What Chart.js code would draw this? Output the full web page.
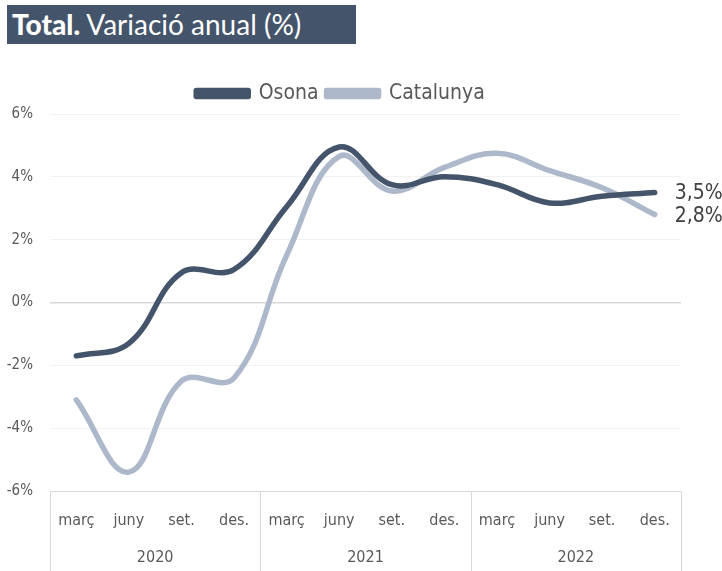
<!DOCTYPE html>
<html>
<head>
<meta charset="utf-8">
<script src="https://cdn.jsdelivr.net/npm/chart.js@4/dist/chart.umd.min.js"></script>
<style>
  html, body { margin: 0; padding: 0; background: #ffffff; }
  body { width: 722px; height: 571px; position: relative; overflow: hidden; }
  #titlebar {
    position: absolute; left: 7px; top: 5px; width: 349px; height: 39px;
    background: #44546a; color: #ffffff;
    font-family: Lato, "Open Sans", sans-serif; font-size: 28px;
    line-height: 39px; padding-left: 5px; box-sizing: border-box; white-space: nowrap;
  }
  #titlebar b { font-weight: 900; }
  #titlebar span { font-weight: 400; }
  #wrap { position: absolute; left: 0; top: 0; width: 722px; height: 571px; }
</style>
</head>
<body>
<div id="wrap"><canvas id="c" width="722" height="571"></canvas></div>
<div id="titlebar"><b>Total.</b><span> Variació anual (%)</span></div>
<script>
const quarters = ['març', 'juny', 'set.', 'des.', 'març', 'juny', 'set.', 'des.', 'març', 'juny', 'set.', 'des.'];
const years = ['2020', '2021', '2022'];
const osona = [-1.7, -1.3, 0.95, 1.05, 3.05, 4.95, 3.75, 4.0, 3.75, 3.17, 3.38, 3.5];
const catalunya = [-3.1, -5.4, -2.5, -2.4, 1.5, 4.65, 3.55, 4.3, 4.75, 4.2, 3.65, 2.8];
const seriesNames = ['Osona', 'Catalunya'];
const yTicks = [-6, -4, -2, 0, 2, 4, 6];

const FONT = "'Liberation Sans Narrow', 'DejaVu Sans Condensed', 'Open Sans', sans-serif";
const TXT = '#595959';

const dividers = {
  id: 'dividers',
  afterDraw(chart) {
    const x = chart.scales.x;
    const n = quarters.length;
    const half = (x.getPixelForValue(1) - x.getPixelForValue(0)) / 2;
    const ctx = chart.ctx;
    ctx.save();
    ctx.strokeStyle = '#d9d9d9';
    ctx.lineWidth = 1;
    for (let i = 0; i <= n; i += 4) {
      const px = i < n ? x.getPixelForValue(i) - half : x.getPixelForValue(n - 1) + half;
      ctx.beginPath();
      ctx.moveTo(Math.round(px) + 0.5, chart.chartArea.bottom);
      ctx.lineTo(Math.round(px) + 0.5, chart.height);
      ctx.stroke();
    }
    ctx.restore();
  }
};

const endLabels = {
  id: 'endLabels',
  afterDatasetsDraw(chart) {
    const ctx = chart.ctx;
    ctx.save();
    ctx.font = "21px " + FONT;
    ctx.fillStyle = '#404040';
    ctx.textBaseline = 'middle';
    ctx.textAlign = 'left';
    chart.data.datasets.forEach((ds, i) => {
      const meta = chart.getDatasetMeta(i);
      const pt = meta.data[meta.data.length - 1];
      const v = ds.data[ds.data.length - 1];
      const txt = v.toFixed(1).replace('.', ',') + '%';
      ctx.fillText(txt, pt.x + 20, pt.y + (i === 0 ? 1 : 2));
    });
    ctx.restore();
  }
};

new Chart(document.getElementById('c'), {
  type: 'line',
  data: {
    labels: quarters,
    datasets: [
      { label: seriesNames[0], data: osona, borderColor: '#44546a', backgroundColor: '#44546a',
        borderWidth: 5.5, tension: 0.4, pointRadius: 0, borderCapStyle: 'round', borderJoinStyle: 'round' },
      { label: seriesNames[1], data: catalunya, borderColor: '#adb9ca', backgroundColor: '#adb9ca',
        borderWidth: 5.5, tension: 0.4, pointRadius: 0, borderCapStyle: 'round', borderJoinStyle: 'round' }
    ]
  },
  options: {
    responsive: false,
    animation: false,
    layout: { padding: { top: 75, right: 41, bottom: 0, left: 0 } },
    plugins: {
      legend: {
        position: 'top',
        align: 'center',
        labels: {
          boxWidth: 52, boxHeight: 6, padding: 8,
          color: TXT, font: { family: FONT, size: 21 }
        }
      },
      tooltip: { enabled: false },
      title: { display: false }
    },
    scales: {
      y: {
        min: -6, max: 6,
        afterBuildTicks(scale) { scale.ticks = yTicks.map(v => ({ value: v })); },
        afterFit(scale) { scale.width = 50; },
        ticks: { callback: v => v + '%', color: TXT, font: { family: FONT, size: 15 }, padding: 17 },
        grid: {
          drawTicks: false,
          color: ctx => (ctx.tick && (ctx.tick.value === 0 || ctx.tick.value === -6)) ? '#d9d9d9' : '#f2f2f2',
          lineWidth: ctx => (ctx.tick && ctx.tick.value === 0) ? 1.5 : 1
        },
        border: { display: false }
      },
      x: {
        type: 'category',
        offset: true,
        afterFit(scale) { scale.height = 40; },
        ticks: { color: TXT, font: { family: FONT, size: 16 }, padding: 20, maxRotation: 0, autoSkip: false },
        grid: { display: false, drawTicks: false },
        border: { display: false }
      },
      years: {
        type: 'category',
        labels: years,
        position: 'bottom',
        offset: true,
        afterFit(scale) { scale.height = 40; },
        ticks: { color: TXT, font: { family: FONT, size: 16 }, padding: 17, maxRotation: 0, autoSkip: false },
        grid: { display: false, drawTicks: false },
        border: { display: false }
      }
    }
  },
  plugins: [dividers, endLabels]
});
</script>
</body>
</html>
